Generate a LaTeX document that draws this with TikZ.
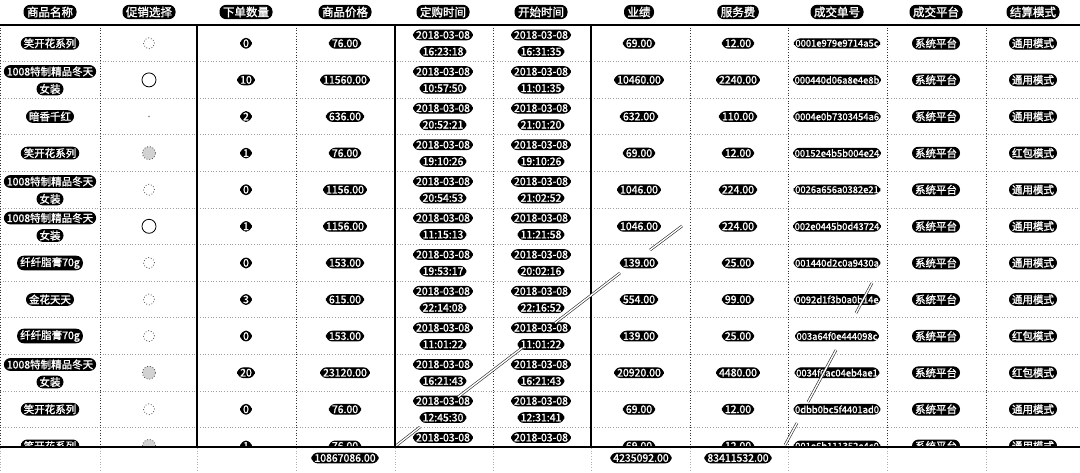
\documentclass[tikz,border=0pt]{standalone}
\usepackage{fontspec}
\setmainfont[AutoFakeBold=1.5]{Noto Sans CJK SC}
\begin{document}
\begin{tikzpicture}[x=1pt,y=-1pt,
  blob/.style={fill=black, draw=black, line width=1pt, text=white, rounded corners=6pt, inner xsep=2.5pt, inner ysep=1pt, font=\fontsize{10.5}{11}\selectfont\bfseries},
  hblob/.style={blob, inner xsep=3pt, inner ysep=1.3pt, font=\fontsize{11.5}{12}\selectfont\bfseries},
  idblob/.style={blob, inner xsep=1pt, font=\fontsize{9.4}{11}\selectfont\bfseries},
  rowline/.style={gray!75, dotted, line width=0.7pt},
  thinv/.style={black!80, dotted, line width=0.7pt},
  thickv/.style={black, line width=1.3pt},
  stubv/.style={gray!60, dotted, line width=0.7pt},
  dotcirc/.style={circle, draw=black!70, dotted, line width=0.8pt, minimum size=11pt, inner sep=0pt},
  solcirc/.style={circle, draw=black, line width=0.8pt, minimum size=14pt, inner sep=0pt},
  grcirc/.style={circle, draw=black!70, fill=gray!35, dotted, line width=0.8pt, minimum size=13pt, inner sep=0pt},
  stroke/.style={double=white, draw=black!85, double distance=1.4pt, line width=0.6pt}
]
\useasboundingbox (0,0) rectangle (1080,472);
\fill[white] (0,0) rectangle (1080,472);

% header
\foreach \x/\t [count=\k] in {50/商品名称,149/促销选择,246/下单数量,345/商品价格,443/定购时间,541/开始时间,639/业绩,738/服务费,837/成交单号,936/成交平台,1033/结算模式}
  \node[hblob] (h\k) at (\x,12) {\t};

\begin{scope}
\clip (0,25) rectangle (1080,447);
% grid
\foreach \k in {1,...,11}
  \draw[rowline] (0,{25+36.6*\k}) -- (1080,{25+36.6*\k});
\foreach \x in {0.6,100,296,493,690,788,887,986}
  \draw[thinv] (\x,25) -- (\x,447);
\foreach \x in {197,395,591}
  \draw[thickv] (\x,25) -- (\x,447);

% rows
\foreach \i/\q/\p/\ta/\tb/\yj/\fee/\id/\md in {
 1/0/76.00/16:23:18/16:31:35/69.00/12.00/0001e979e9714a5c/通用模式,
 2/10/11560.00/10:57:50/11:01:35/10460.00/2240.00/000440d06a8e4e8b/通用模式,
 3/2/636.00/20:52:21/21:01:20/632.00/110.00/0004e0b7303454a6/通用模式,
 4/1/76.00/19:10:26/19:10:26/69.00/12.00/00152e4b5b004e24/红包模式,
 5/0/1156.00/20:54:53/21:02:52/1046.00/224.00/0026a656a0382e21/通用模式,
 6/1/1156.00/11:15:13/11:21:58/1046.00/224.00/002e0445b0d43724/通用模式,
 7/0/153.00/19:53:17/20:02:16/139.00/25.00/001440d2c0a9430a/通用模式,
 8/3/615.00/22:14:08/22:16:52/554.00/99.00/0092d1f3b0a0b14e/通用模式,
 9/0/153.00/11:01:22/11:01:22/139.00/25.00/003a64f0e444098c/红包模式,
 10/20/23120.00/16:21:43/16:21:43/20920.00/4480.00/0034f0ac04eb4ae1/红包模式,
 11/0/76.00/12:45:30/12:31:41/69.00/12.00/0dbb0bc5f4401ad0/通用模式,
 12/1/76.00/12:02:18/12:05:40/69.00/12.00/001e6b111352e4c0/通用模式}
{
  \pgfmathsetmacro\y{43.3+36.6*(\i-1)}
  \node[blob] (q\i) at (246,\y) {\q};
  \node[blob] (p\i) at (345,\y) {\p};
  \node[blob] (da\i) at (443,\y-8.3) {2018-03-08};
  \node[blob] (db\i) at (443,\y+8.3) {\ta};
  \node[blob] (ea\i) at (541,\y-8.3) {2018-03-08};
  \node[blob] (eb\i) at (541,\y+8.3) {\tb};
  \node[blob] (y\i) at (639,\y) {\yj};
  \node[blob] (f\i) at (738,\y) {\fee};
  \node[idblob] (o\i) at (837,\y) {\id};
  \node[blob] (s\i) at (936,\y) {系统平台};
  \node[blob] (m\i) at (1033,\y) {\md};
}

% product names
\node[blob] (n1) at (50,43.3) {笑开花系列};
\node[blob] (n2a) at (50,71.5) {1008特制精品冬天};
\node[blob] (n2b) at (50,89) {女装};
\node[blob] (n3) at (50,116.5) {暗香千红};
\node[blob] (n4) at (50,153.1) {笑开花系列};
\node[blob] (n5a) at (50,181.5) {1008特制精品冬天};
\node[blob] (n5b) at (50,199) {女装};
\node[blob] (n6a) at (50,218) {1008特制精品冬天};
\node[blob] (n6b) at (50,235.5) {女装};
\node[blob] (n7) at (50,263) {纤纤脂膏70g};
\node[blob] (n8) at (50,299.5) {金花天天};
\node[blob] (n9) at (50,336) {纤纤脂膏70g};
\node[blob] (n10a) at (50,364.5) {1008特制精品冬天};
\node[blob] (n10b) at (50,382) {女装};
\node[blob] (n11) at (50,409.3) {笑开花系列};
\node[blob] (n12) at (50,445.9) {笑开花系列};

% promotion column marks
\node[dotcirc] (c1) at (149,43.3) {};
\node[solcirc] (c2) at (149,79.9) {};
\node[circle, fill=gray, inner sep=0.7pt] (c3) at (149,116.5) {};
\node[grcirc] (c4) at (149,153.1) {};
\node[dotcirc] (c5) at (149,189.7) {};
\node[solcirc] (c6) at (149,226.3) {};
\node[dotcirc] (c7) at (149,262.9) {};
\node[dotcirc] (c8) at (149,299.5) {};
\node[dotcirc] (c9) at (149,336.1) {};
\node[grcirc] (c10) at (149,372.7) {};
\node[dotcirc] (c11) at (149,409.3) {};
\node[grcirc] (c12) at (149,445.9) {};
\end{scope}

% table rules
\draw[line width=2pt] (0,25) -- (1080,25);
\draw[line width=1.5pt] (0,447) -- (1080,447);
\foreach \x in {0.6,100,197,296,395,493,591,690,788,887,986}
  \draw[stubv] (\x,448) -- (\x,472);

% totals
\node[blob] (t1) at (345,458) {10867086.00};
\node[blob] (t2) at (641,458) {4235092.00};
\node[blob] (t3) at (738,458) {83411532.00};

% hand-drawn strokes
\coordinate (a0) at (397,445);
\coordinate (a1) at (420,427);
\coordinate (a2) at (458,397);
\coordinate (a3) at (522,348);
\coordinate (a4) at (555,323);
\coordinate (a5) at (620,273);
\coordinate (a6) at (650,250);
\coordinate (a7) at (682,226);
\draw[stroke] (a0) -- (a1);
\draw[stroke] (a2) -- (a3);
\draw[stroke] (a4) -- (a5);
\draw[stroke] (a6) -- (a7);
\coordinate (b0) at (785,445);
\coordinate (b1) at (797,423);
\coordinate (b2) at (808,402);
\coordinate (b3) at (836,350);
\coordinate (b4) at (856,313);
\coordinate (b5) at (872,283);
\draw[stroke] (b0) -- (b1);
\draw[stroke] (b2) -- (b3);
\draw[stroke] (b4) -- (b5);
\end{tikzpicture}
\end{document}
